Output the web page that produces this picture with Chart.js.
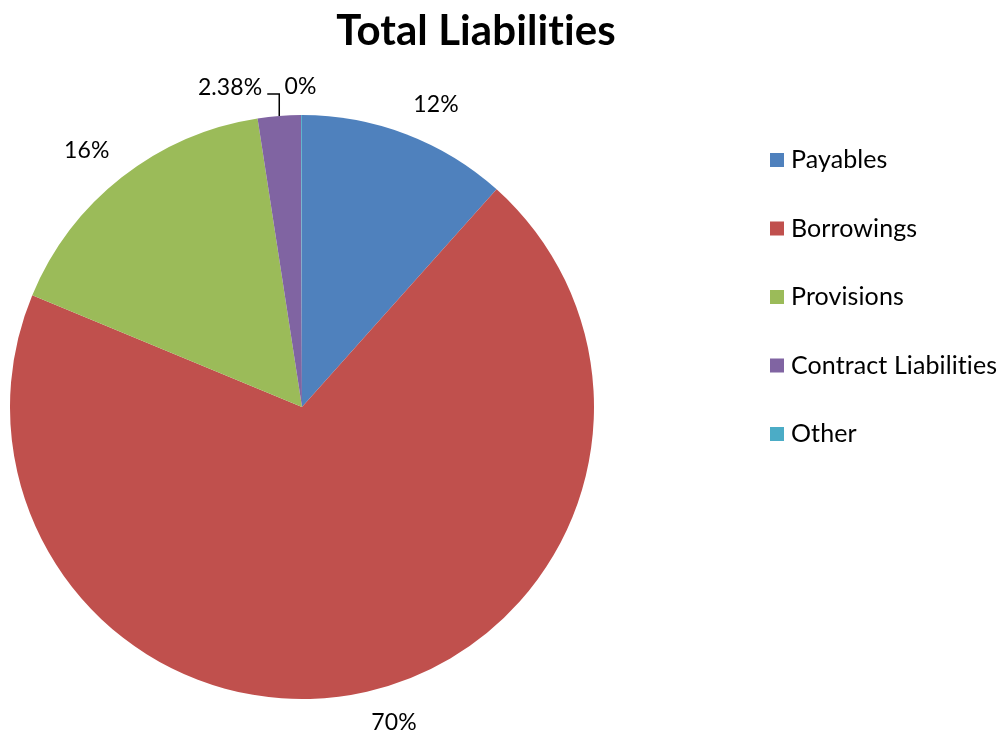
<!DOCTYPE html>
<html>
<head>
<meta charset="utf-8">
<script src="https://cdn.jsdelivr.net/npm/chart.js@4.4.1/dist/chart.umd.min.js"></script>
<style>
  body { margin: 0; background: #fff; }
  #liabilities-chart { display: block; }
</style>
</head>
<body>
<canvas id="liabilities-chart" width="1000" height="733"></canvas>
<script>
var chartTitle = 'Total Liabilities';
var categories = ['Payables', 'Borrowings', 'Provisions', 'Contract Liabilities', 'Other'];
var shares = [11.6, 69.6, 16.3, 2.38, 0.05];
var shareLabels = ['12%', '70%', '16%', '2.38%', '0%'];
var sliceColors = ['#4F81BD', '#C0504D', '#9BBB59', '#8064A2', '#4BACC6'];

var FONT = 'Lato, "Open Sans", sans-serif';

// title, legend and outside labels drawn on top of the pie
var extrasPlugin = {
    id: 'extras',
    afterDraw: function(chart) {
        var ctx = chart.ctx;
        var meta = chart.getDatasetMeta(0);
        ctx.save();
        // tiny spacing keeps Lato from joining "ti"
        ctx.letterSpacing = '0.1px';

        ctx.fillStyle = '#000';
        ctx.font = 'bold 42px ' + FONT;
        ctx.textAlign = 'center';
        ctx.textBaseline = 'middle';
        ctx.fillText(chartTitle, 476, 31);

        ctx.font = '25px ' + FONT;
        ctx.textAlign = 'left';
        categories.forEach(function(name, i) {
            var y = 160 + i * 68.5;
            ctx.fillStyle = sliceColors[i];
            ctx.fillRect(770, y - 7, 14, 14);
            ctx.fillStyle = '#000';
            ctx.fillText(name, 791, y);
        });

        ctx.font = '23px ' + FONT;
        meta.data.forEach(function(arc, i) {
            var p = arc.getProps(['x', 'y', 'startAngle', 'endAngle', 'outerRadius'], true);
            var mid = (p.startAngle + p.endAngle) / 2;
            var cos = Math.cos(mid), sin = Math.sin(mid);
            var txt = shareLabels[i];
            var w = ctx.measureText(txt).width, h = 22;
            var ex = p.x + cos * p.outerRadius;
            var ey = p.y + sin * p.outerRadius;
            ctx.fillStyle = '#000';
            if (shares[i] >= 5) {
                // nearest corner of the label box sits just outside the rim
                var R = p.outerRadius + 20;
                var ax = p.x + cos * R, ay = p.y + sin * R;
                ctx.textAlign = 'center';
                ctx.fillText(txt, ax + Math.sign(cos) * w / 2, ay + Math.sign(sin) * h / 2);
            } else if (shares[i] < 0.5) {
                ctx.textAlign = 'center';
                ctx.fillText(txt, ex - 1, ey - 28);
            } else {
                ctx.strokeStyle = '#000';
                ctx.lineWidth = 1.5;
                ctx.beginPath();
                ctx.moveTo(ex, ey);
                ctx.lineTo(ex, ey - 22);
                ctx.lineTo(ex - 12, ey - 22);
                ctx.stroke();
                ctx.textAlign = 'right';
                ctx.fillText(txt, ex - 17, ey - 28);
            }
        });
        ctx.restore();
    }
};

var canvas = document.getElementById('liabilities-chart');
var pieChart = new Chart(canvas, {
    type: 'pie',
    data: {
        labels: categories,
        datasets: [{
            data: shares,
            backgroundColor: sliceColors,
            borderWidth: 0
        }]
    },
    options: {
        responsive: false,
        animation: false,
        layout: {
            padding: { left: 10, right: 406, top: 115, bottom: 34 }
        },
        plugins: {
            legend: { display: false },
            title: { display: false },
            tooltip: { enabled: false }
        }
    },
    plugins: [extrasPlugin]
});
</script>
</body>
</html>
